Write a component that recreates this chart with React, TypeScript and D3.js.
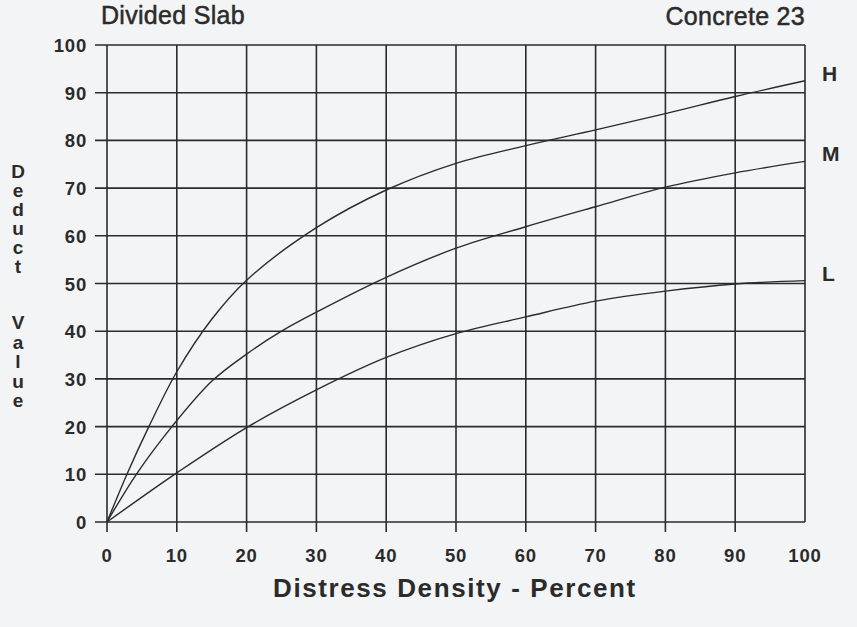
import React from "react";
import * as d3 from "d3";

const xTicks = [0, 10, 20, 30, 40, 50, 60, 70, 80, 90, 100];
const yTicks = [0, 10, 20, 30, 40, 50, 60, 70, 80, 90, 100];

const highDensity = [0, 3, 6, 10, 15, 20, 30, 40, 50, 60, 70, 80, 90, 100];
const highDeduct = [0, 10.5, 20, 31.5, 42.5, 50.7, 61.7, 69.6, 75.2, 78.9, 82.2, 85.6, 89.2, 92.5];

const medDensity = [0, 4.2, 9.3, 15, 20, 25, 30, 40, 50, 60, 70, 80, 90, 100];
const medDeduct = [0, 10, 20, 29.5, 35.2, 40, 44, 51.3, 57.4, 61.9, 66.1, 70.2, 73.2, 75.6];

const lowDensity = [0, 10, 20, 30, 40, 50, 60, 70, 80, 90, 100];
const lowDeduct = [0, 10.3, 19.8, 27.7, 34.5, 39.5, 43, 46.3, 48.4, 49.9, 50.6];

const seriesNames = ["H", "M", "L"];
const yLabelTop = "Deduct";
const yLabelBottom = "Value";

export default function App() {
  const W = 857;
  const H = 627;
  const x = d3.scaleLinear().domain([0, 100]).range([107, 805]);
  const y = d3.scaleLinear().domain([0, 100]).range([522, 45]);
  const line = d3
    .line<[number, number]>()
    .x((d) => x(d[0]))
    .y((d) => y(d[1]))
    .curve(d3.curveCatmullRom.alpha(0.5));

  const series = [
    { name: seriesNames[0], pts: highDensity.map((v, i) => [v, highDeduct[i]] as [number, number]) },
    { name: seriesNames[1], pts: medDensity.map((v, i) => [v, medDeduct[i]] as [number, number]) },
    { name: seriesNames[2], pts: lowDensity.map((v, i) => [v, lowDeduct[i]] as [number, number]) },
  ];

  const ink = "#2b2b2b";
  const font = "'Liberation Sans', Arial, Helvetica, sans-serif";

  return (
    <svg
      width={W}
      height={H}
      style={{ position: "absolute", left: 0, top: 0, display: "block" }}
      fontFamily={font}
    >
      <rect x={0} y={0} width={W} height={H} fill="#f3f4f5" />
      {yTicks.map((t) => (
        <line key={"h" + t} x1={95} x2={x(100)} y1={y(t)} y2={y(t)} stroke={ink} strokeWidth={1.6} />
      ))}
      {xTicks.map((t) => (
        <line
          key={"v" + t}
          x1={x(t)}
          x2={x(t)}
          y1={y(100)}
          y2={t === 100 ? y(0) : y(0) + 10}
          stroke={ink}
          strokeWidth={1.6}
        />
      ))}
      {series.map((s) => (
        <path key={s.name} d={line(s.pts) || ""} fill="none" stroke={ink} strokeWidth={1.4} />
      ))}
      {series.map((s) => (
        <text
          key={"l" + s.name}
          x={x(100) + 17}
          y={y(s.pts[s.pts.length - 1][1])}
          fontSize={21}
          fontWeight="bold"
          fill={ink}
        >
          {s.name}
        </text>
      ))}
      {yTicks.map((t) => (
        <text
          key={"yt" + t}
          x={87}
          y={y(t) + 7}
          textAnchor="end"
          fontSize={18.5}
          fontWeight="bold"
          letterSpacing={0.8}
          fill={ink}
        >
          {t}
        </text>
      ))}
      {xTicks.map((t) => (
        <text
          key={"xt" + t}
          x={x(t)}
          y={562}
          textAnchor="middle"
          fontSize={18.5}
          fontWeight="bold"
          letterSpacing={0.8}
          fill={ink}
        >
          {t}
        </text>
      ))}
      <text x={273} y={597} fontSize={26} fontWeight="bold" letterSpacing={1.6} fill={ink}>
        Distress Density - Percent
      </text>
      {yLabelTop.split("").map((c, i) => (
        <text key={"yd" + i} x={18} y={178 + i * 19} textAnchor="middle" fontSize={19} fontWeight="bold" fill={ink}>
          {c}
        </text>
      ))}
      {yLabelBottom.split("").map((c, i) => (
        <text key={"yv" + i} x={18} y={329 + i * 19.5} textAnchor="middle" fontSize={19} fontWeight="bold" fill={ink}>
          {c}
        </text>
      ))}
      <text x={101} y={24} fontSize={25} fill={ink} stroke={ink} strokeWidth={0.5} letterSpacing={0.3}>
        Divided Slab
      </text>
      <text x={805} y={25} textAnchor="end" fontSize={25} fill={ink} stroke={ink} strokeWidth={0.5} letterSpacing={0.3}>
        Concrete 23
      </text>
    </svg>
  );
}
